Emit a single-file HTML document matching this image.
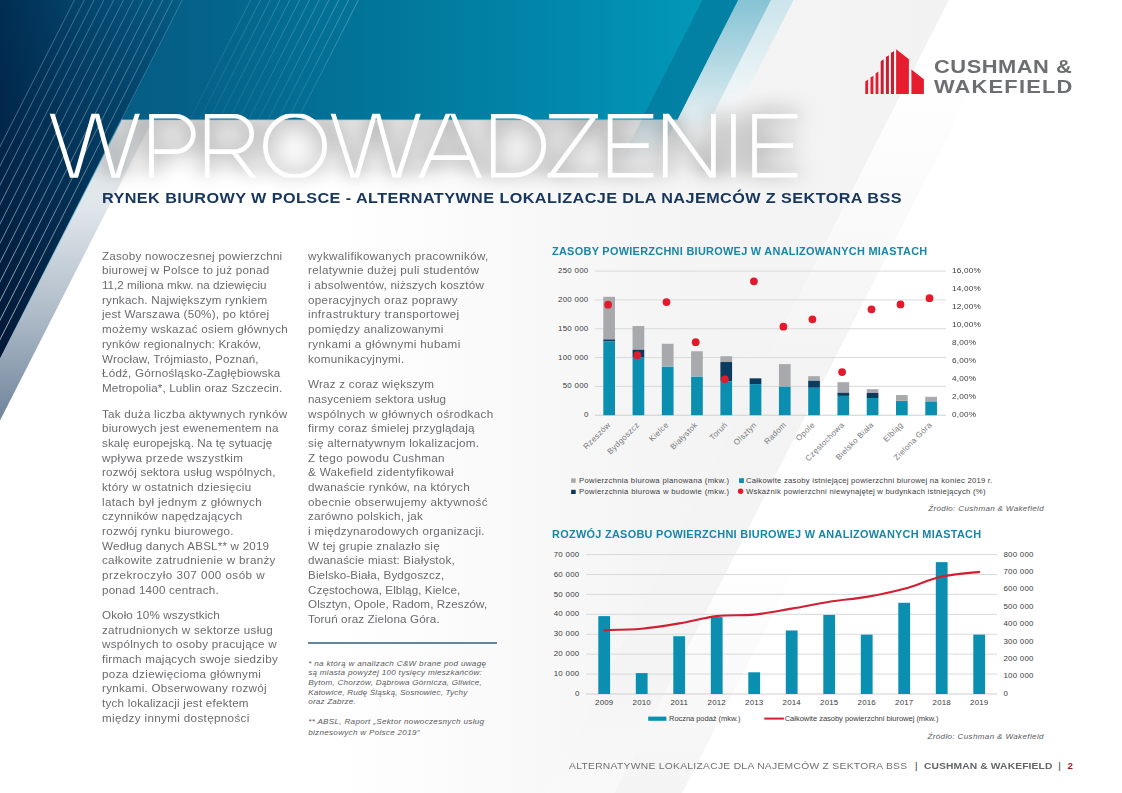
<!DOCTYPE html>
<html><head><meta charset="utf-8"><title>Wprowadzenie</title>
<style>
html,body{margin:0;padding:0;background:#fff;}
body{width:1122px;height:793px;position:relative;overflow:hidden;font-family:"Liberation Sans",sans-serif;}
.t{position:absolute;white-space:nowrap;line-height:1;margin:0;padding:0;transform-origin:0 50%;}
svg{position:absolute;left:0;top:0;}
</style></head><body>
<svg width="1122" height="793" viewBox="0 0 1122 793">
<defs>
<linearGradient id="gTeal" gradientUnits="userSpaceOnUse" x1="0" y1="0" x2="760" y2="0">
 <stop offset="0" stop-color="#04557b"/><stop offset="0.24" stop-color="#056088"/><stop offset="0.5" stop-color="#02769a"/><stop offset="0.75" stop-color="#0189ac"/><stop offset="0.9" stop-color="#0296b7"/><stop offset="1" stop-color="#0296b7"/>
</linearGradient>
<linearGradient id="gNavy" gradientUnits="userSpaceOnUse" x1="0" y1="0" x2="185" y2="0">
 <stop offset="0" stop-color="#022d52"/><stop offset="0.5" stop-color="#04476f"/><stop offset="1" stop-color="#055d85"/>
</linearGradient>
<linearGradient id="gNavyV" gradientUnits="userSpaceOnUse" x1="0" y1="0" x2="0" y2="360">
 <stop offset="0" stop-color="#001030" stop-opacity="0"/><stop offset="0.33" stop-color="#001030" stop-opacity="0.22"/><stop offset="1" stop-color="#000a25" stop-opacity="0.6"/>
</linearGradient>
<linearGradient id="gBand" gradientUnits="userSpaceOnUse" x1="0" y1="120" x2="0" y2="420">
 <stop offset="0" stop-color="#eef1f3"/><stop offset="0.3" stop-color="#dfe5ea"/><stop offset="0.65" stop-color="#aebbc8"/><stop offset="1" stop-color="#6f849b"/>
</linearGradient>
<linearGradient id="gLB1" gradientUnits="userSpaceOnUse" x1="0" y1="0" x2="0" y2="150">
 <stop offset="0" stop-color="#86c3d4"/><stop offset="0.55" stop-color="#c3e0e8"/><stop offset="0.8" stop-color="#e6f1f4" stop-opacity="0.9"/><stop offset="1" stop-color="#ffffff" stop-opacity="0"/>
</linearGradient>
<linearGradient id="gLB0" gradientUnits="userSpaceOnUse" x1="0" y1="120" x2="0" y2="165">
 <stop offset="0" stop-color="#9fcfdc" stop-opacity="0.45"/><stop offset="1" stop-color="#cfe6ec" stop-opacity="0"/></linearGradient>
<linearGradient id="gLB2" gradientUnits="userSpaceOnUse" x1="0" y1="0" x2="0" y2="135">
 <stop offset="0" stop-color="#cbe4eb"/><stop offset="0.6" stop-color="#eaf3f6"/><stop offset="1" stop-color="#ffffff" stop-opacity="0"/>
</linearGradient>
<linearGradient id="gGrayA" gradientUnits="userSpaceOnUse" x1="330" y1="0" x2="949" y2="0">
 <stop offset="0" stop-color="#ffffff"/><stop offset="0.5" stop-color="#f5f5f5"/><stop offset="1" stop-color="#f2f2f2"/>
</linearGradient>
<linearGradient id="gB2" gradientUnits="userSpaceOnUse" x1="0" y1="0" x2="0" y2="793">
 <stop offset="0" stop-color="#ffffff"/><stop offset="0.13" stop-color="#fefefe"/><stop offset="0.33" stop-color="#f8f8f8"/><stop offset="0.48" stop-color="#f3f3f3"/><stop offset="0.85" stop-color="#f4f4f4"/><stop offset="1" stop-color="#f9f9f9"/></linearGradient>
<linearGradient id="gB3" gradientUnits="userSpaceOnUse" x1="0" y1="0" x2="0" y2="793">
 <stop offset="0" stop-color="#ffffff"/><stop offset="0.7" stop-color="#ffffff"/><stop offset="1" stop-color="#f4f4f4"/></linearGradient>
<linearGradient id="gLinesN" gradientUnits="userSpaceOnUse" x1="0" y1="0" x2="0" y2="340">
 <stop offset="0" stop-color="#dbe9f2" stop-opacity="0.30"/><stop offset="0.35" stop-color="#e3eef5" stop-opacity="0.36"/><stop offset="1" stop-color="#ffffff" stop-opacity="0.72"/></linearGradient>
<linearGradient id="gEdge" gradientUnits="userSpaceOnUse" x1="0" y1="120" x2="0" y2="360">
 <stop offset="0" stop-color="#2d9cbd" stop-opacity="0.9"/><stop offset="1" stop-color="#2d9cbd" stop-opacity="0.15"/></linearGradient>
<linearGradient id="gLinesT" gradientUnits="userSpaceOnUse" x1="0" y1="0" x2="0" y2="120">
 <stop offset="0" stop-color="#fff" stop-opacity="0.30"/><stop offset="1" stop-color="#fff" stop-opacity="0.10"/>
</linearGradient>
<clipPath id="cpTop"><rect x="0" y="0" width="1122" height="120"/></clipPath>
<clipPath id="cpBelow"><rect x="0" y="120" width="1122" height="680"/></clipPath>
<linearGradient id="gHdrSh" gradientUnits="userSpaceOnUse" x1="0" y1="120" x2="0" y2="160">
 <stop offset="0" stop-color="#000" stop-opacity="0.07"/><stop offset="1" stop-color="#000" stop-opacity="0"/></linearGradient>
<linearGradient id="gHdrShX" gradientUnits="userSpaceOnUse" x1="600" y1="0" x2="690" y2="0">
 <stop offset="0" stop-color="#fff"/><stop offset="1" stop-color="#000"/></linearGradient>
<mask id="mHdr" maskUnits="userSpaceOnUse" x="0" y="100" width="1122" height="100"><rect x="0" y="100" width="1122" height="100" fill="url(#gHdrShX)"/></mask>
<linearGradient id="gGlowFade" gradientUnits="userSpaceOnUse" x1="0" y1="170" x2="0" y2="196">
 <stop offset="0" stop-color="#fff"/><stop offset="1" stop-color="#000"/></linearGradient>
<mask id="mGlow" maskUnits="userSpaceOnUse" x="0" y="0" width="1122" height="300"><rect x="0" y="0" width="1122" height="300" fill="url(#gGlowFade)"/></mask>
<clipPath id="cpGlow"><polygon points="121.2,120 677,120 738,0 1122,0 1122,260 50,260"/></clipPath>
<clipPath id="cpCaps"><rect x="0" y="113.8" width="1122" height="64"/></clipPath>
<filter id="fGlow" x="-6%" y="-80%" width="112%" height="260%">
 <feGaussianBlur in="SourceAlpha" stdDeviation="11" result="b"/>
 <feComponentTransfer in="b" result="b2"><feFuncA type="linear" slope="2"/></feComponentTransfer>
 <feFlood flood-color="#000" flood-opacity="0.33"/><feComposite in2="b2" operator="in"/>
</filter>
</defs>
<g transform="skewX(-26.931)">
</g><polygon points="330,0 949,0 546.2,793 330,793" fill="url(#gGrayA)"/><g transform="skewX(-26.931)">
<rect x="949" y="0" width="68" height="800" fill="url(#gB2)"/>
<rect x="1017" y="0" width="68" height="800" fill="url(#gB3)"/>
<rect x="702.4" y="120" width="35.6" height="45" fill="url(#gLB0)"/>
<rect x="738" y="0" width="33.5" height="150" fill="url(#gLB1)"/>
<rect x="771" y="0" width="22.5" height="135" fill="url(#gLB2)"/>
</g>
<g clip-path="url(#cpTop)">
<g transform="skewX(-26.931)">
<rect x="-10" y="0" width="748" height="120" fill="url(#gTeal)" />
</g>
<polygon points="0,0 738,0 677.0,120 0,120" fill="url(#gTeal)"/>
<g transform="skewX(-26.931)">
<rect x="702.4" y="0" width="35.6" height="120" fill="#04749a" opacity="0.62"/>
<rect x="250.15" y="0" width="0.9" height="120" fill="url(#gLinesT)" opacity="0.55"/>
<rect x="259.95" y="0" width="0.9" height="120" fill="url(#gLinesT)" opacity="0.59"/>
<rect x="269.75" y="0" width="0.9" height="120" fill="url(#gLinesT)" opacity="0.63"/>
<rect x="279.55" y="0" width="0.9" height="120" fill="url(#gLinesT)" opacity="0.67"/>
<rect x="289.35" y="0" width="0.9" height="120" fill="url(#gLinesT)" opacity="0.71"/>
<rect x="299.15" y="0" width="0.9" height="120" fill="url(#gLinesT)" opacity="0.75"/>
<rect x="308.95" y="0" width="0.9" height="120" fill="url(#gLinesT)" opacity="0.80"/>
<rect x="318.75" y="0" width="0.9" height="120" fill="url(#gLinesT)" opacity="0.84"/>
<rect x="328.55" y="0" width="0.9" height="120" fill="url(#gLinesT)" opacity="0.88"/>
<rect x="338.35" y="0" width="0.9" height="120" fill="url(#gLinesT)" opacity="0.92"/>
<rect x="348.15" y="0" width="0.9" height="120" fill="url(#gLinesT)" opacity="0.96"/>
<rect x="357.95" y="0" width="0.9" height="120" fill="url(#gLinesT)" opacity="1.00"/>
</g></g>
<polygon points="0,0 182.2,0 0,358.7" fill="url(#gNavy)"/>
<polygon points="0,0 182.2,0 0,358.7" fill="url(#gNavyV)"/>
<g transform="skewX(-26.931)">
<rect x="74.03" y="0" width="0.9" height="400" fill="url(#gLinesN)"/>
<rect x="83.83" y="0" width="0.9" height="400" fill="url(#gLinesN)"/>
<rect x="93.63" y="0" width="0.9" height="400" fill="url(#gLinesN)"/>
<rect x="103.43" y="0" width="0.9" height="400" fill="url(#gLinesN)"/>
<rect x="113.23" y="0" width="0.9" height="400" fill="url(#gLinesN)"/>
<rect x="123.03" y="0" width="0.9" height="400" fill="url(#gLinesN)"/>
<rect x="132.83" y="0" width="0.9" height="400" fill="url(#gLinesN)"/>
<rect x="142.63" y="0" width="0.9" height="400" fill="url(#gLinesN)"/>
<rect x="152.43" y="0" width="0.9" height="400" fill="url(#gLinesN)"/>
<rect x="162.23" y="0" width="0.9" height="400" fill="url(#gLinesN)"/>
<rect x="172.03" y="0" width="0.9" height="400" fill="url(#gLinesN)"/>
<rect x="181.8" y="0" width="0.8" height="120" fill="#cfe6ef" opacity="0.28"/>
<g clip-path="url(#cpB2)">
</g>
</g>
<g clip-path="url(#cpBelow)"><g transform="skewX(-26.931)">
<rect x="182.2" y="120" width="31.4" height="320" fill="url(#gBand)"/>
<rect x="181.7" y="120" width="1.1" height="320" fill="url(#gEdge)"/>
</g></g>
<rect x="121" y="119.6" width="556.0" height="0.8" fill="#c9eef5" opacity="0.8"/>
<g clip-path="url(#cpGlow)"><rect x="60" y="120" width="770" height="40" fill="url(#gHdrSh)" mask="url(#mHdr)"/></g>
<g clip-path="url(#cpGlow)"><g mask="url(#mGlow)"><g filter="url(#fGlow)"><g fill="none" stroke="#fff" stroke-width="4.70" stroke-linejoin="miter" stroke-miterlimit="10" clip-path="url(#cpCaps)"><path d="M50.36,107.90 L74.10,182.90 L95.30,108.70 L115.50,182.90 L139.24,107.90 M151.50,113.90 V177.70 M151.50,116.25 H175.62 A17.67,17.67 0 0 1 175.62,151.60 H151.50 M207.20,113.90 V177.70 M207.20,116.25 H234.02 A17.67,17.67 0 0 1 234.02,151.60 H207.20 M233.00,151.00 L254.60,179.70 M331.26,107.90 L355.00,182.90 L376.20,108.70 L396.40,182.90 L420.14,107.90 M418.67,183.70 L450.40,108.50 L481.69,183.70 M430.49,157.70 H470.03 M493.30,113.90 V177.70 M493.30,116.25 H514.20 A29.55,29.55 0 0 1 514.20,175.35 H493.30 M549.10,116.25 H598.00 M547.60,175.35 H598.20 M595.00,115.75 L550.60,175.85 M610.10,113.90 V177.70 M610.10,116.25 H653.30 M610.10,145.65 H648.70 M610.10,175.35 H653.50 M665.30,113.90 V177.70 M713.40,113.90 V177.70 M663.70,110.50 L715.00,181.10 M733.45,113.90 V177.70 M754.50,113.90 V177.70 M754.50,116.25 H797.40 M754.50,145.65 H793.00 M754.50,175.35 H797.60"/><ellipse cx="295" cy="145.9" rx="29.65" ry="30.75"/></g></g></g></g>
<g fill="none" stroke="#fff" stroke-width="4.70" stroke-linejoin="miter" stroke-miterlimit="10" clip-path="url(#cpCaps)"><path d="M50.36,107.90 L74.10,182.90 L95.30,108.70 L115.50,182.90 L139.24,107.90 M151.50,113.90 V177.70 M151.50,116.25 H175.62 A17.67,17.67 0 0 1 175.62,151.60 H151.50 M207.20,113.90 V177.70 M207.20,116.25 H234.02 A17.67,17.67 0 0 1 234.02,151.60 H207.20 M233.00,151.00 L254.60,179.70 M331.26,107.90 L355.00,182.90 L376.20,108.70 L396.40,182.90 L420.14,107.90 M418.67,183.70 L450.40,108.50 L481.69,183.70 M430.49,157.70 H470.03 M493.30,113.90 V177.70 M493.30,116.25 H514.20 A29.55,29.55 0 0 1 514.20,175.35 H493.30 M549.10,116.25 H598.00 M547.60,175.35 H598.20 M595.00,115.75 L550.60,175.85 M610.10,113.90 V177.70 M610.10,116.25 H653.30 M610.10,145.65 H648.70 M610.10,175.35 H653.50 M665.30,113.90 V177.70 M713.40,113.90 V177.70 M663.70,110.50 L715.00,181.10 M733.45,113.90 V177.70 M754.50,113.90 V177.70 M754.50,116.25 H797.40 M754.50,145.65 H793.00 M754.50,175.35 H797.60"/><ellipse cx="295" cy="145.9" rx="29.65" ry="30.75"/></g>
<polygon points="865.3,93.9 865.3,81.4 868.1,79.5 868.1,93.9" fill="#e21b2d"/>
<polygon points="870.5,93.9 870.5,77.6 873.4,75.7 873.4,93.9" fill="#e21b2d"/>
<polygon points="875.6,93.9 875.6,73.4 878.4,71.5 878.4,93.9" fill="#e21b2d"/>
<polygon points="880.7,93.9 880.7,61.3 883.7,59.3 883.7,93.9" fill="#c5202f"/>
<polygon points="885.9,93.9 885.9,57.1 888.9,55.2 888.9,93.9" fill="#c5202f"/>
<polygon points="890.9,93.9 890.9,53.1 894.0,50.9 894.0,93.9" fill="#c5202f"/>
<polygon points="896.1,93.9 896.1,49.2 908.9,59.3 908.9,93.9" fill="#e61d2f"/>
<polygon points="911.4,93.9 911.4,69.6 923.9,79.3 923.9,93.9" fill="#e61d2f"/>
</svg>
<div class="t" style="left:933.80px;top:57.12px;font-size:19.00px;letter-spacing:0.465px;color:#6d6e71;font-weight:bold;transform:scaleX(1.1500);">CUSHMAN &amp;</div>
<div class="t" style="left:934.30px;top:77.42px;font-size:19.00px;letter-spacing:1.047px;color:#6d6e71;font-weight:bold;transform:scaleX(1.1500);">WAKEFIELD</div>
<div class="t" style="left:102.40px;top:189.90px;font-size:15.00px;letter-spacing:0.392px;color:#17365d;font-weight:bold;transform:scaleX(1.0800);">RYNEK BIUROWY W POLSCE - ALTERNATYWNE LOKALIZACJE DLA NAJEMCÓW Z SEKTORA BSS</div>
<div class="t" style="left:102.40px;top:250.74px;font-size:10.70px;letter-spacing:0.211px;color:#6a6b6e;transform:scaleX(1.0900);">Zasoby nowoczesnej powierzchni</div>
<div class="t" style="left:102.40px;top:265.42px;font-size:10.70px;letter-spacing:0.227px;color:#6a6b6e;transform:scaleX(1.0900);">biurowej w Polsce to już ponad</div>
<div class="t" style="left:102.40px;top:280.10px;font-size:10.70px;letter-spacing:-0.012px;color:#6a6b6e;transform:scaleX(1.0900);">11,2 miliona mkw. na dziewięciu</div>
<div class="t" style="left:102.40px;top:294.78px;font-size:10.70px;letter-spacing:0.203px;color:#6a6b6e;transform:scaleX(1.0900);">rynkach. Największym rynkiem</div>
<div class="t" style="left:102.40px;top:309.46px;font-size:10.70px;letter-spacing:0.201px;color:#6a6b6e;transform:scaleX(1.0900);">jest Warszawa (50%), po której</div>
<div class="t" style="left:102.40px;top:324.14px;font-size:10.70px;letter-spacing:0.254px;color:#6a6b6e;transform:scaleX(1.0900);">możemy wskazać osiem głównych</div>
<div class="t" style="left:102.40px;top:338.82px;font-size:10.70px;letter-spacing:0.163px;color:#6a6b6e;transform:scaleX(1.0900);">rynków regionalnych: Kraków,</div>
<div class="t" style="left:102.40px;top:353.50px;font-size:10.70px;letter-spacing:0.115px;color:#6a6b6e;transform:scaleX(1.0900);">Wrocław, Trójmiasto, Poznań,</div>
<div class="t" style="left:102.40px;top:368.18px;font-size:10.70px;letter-spacing:0.192px;color:#6a6b6e;transform:scaleX(1.0900);">Łódź, Górnośląsko-Zagłębiowska</div>
<div class="t" style="left:102.40px;top:382.86px;font-size:10.70px;letter-spacing:0.131px;color:#6a6b6e;transform:scaleX(1.0900);">Metropolia*, Lublin oraz Szczecin.</div>
<div class="t" style="left:102.40px;top:408.64px;font-size:10.70px;letter-spacing:0.227px;color:#6a6b6e;transform:scaleX(1.0900);">Tak duża liczba aktywnych rynków</div>
<div class="t" style="left:102.40px;top:423.32px;font-size:10.70px;letter-spacing:0.221px;color:#6a6b6e;transform:scaleX(1.0900);">biurowych jest ewenementem na</div>
<div class="t" style="left:102.40px;top:438.00px;font-size:10.70px;letter-spacing:0.071px;color:#6a6b6e;transform:scaleX(1.0900);">skalę europejską. Na tę sytuację</div>
<div class="t" style="left:102.40px;top:452.68px;font-size:10.70px;letter-spacing:0.316px;color:#6a6b6e;transform:scaleX(1.0900);">wpływa przede wszystkim</div>
<div class="t" style="left:102.40px;top:467.36px;font-size:10.70px;letter-spacing:0.194px;color:#6a6b6e;transform:scaleX(1.0900);">rozwój sektora usług wspólnych,</div>
<div class="t" style="left:102.40px;top:482.04px;font-size:10.70px;letter-spacing:0.271px;color:#6a6b6e;transform:scaleX(1.0900);">który w ostatnich dziesięciu</div>
<div class="t" style="left:102.40px;top:496.72px;font-size:10.70px;letter-spacing:0.297px;color:#6a6b6e;transform:scaleX(1.0900);">latach był jednym z głównych</div>
<div class="t" style="left:102.40px;top:511.40px;font-size:10.70px;letter-spacing:0.227px;color:#6a6b6e;transform:scaleX(1.0900);">czynników napędzających</div>
<div class="t" style="left:102.40px;top:526.08px;font-size:10.70px;letter-spacing:0.248px;color:#6a6b6e;transform:scaleX(1.0900);">rozwój rynku biurowego.</div>
<div class="t" style="left:102.40px;top:540.76px;font-size:10.70px;letter-spacing:0.168px;color:#6a6b6e;transform:scaleX(1.0900);">Według danych ABSL** w 2019</div>
<div class="t" style="left:102.40px;top:555.44px;font-size:10.70px;letter-spacing:0.273px;color:#6a6b6e;transform:scaleX(1.0900);">całkowite zatrudnienie w branży</div>
<div class="t" style="left:102.40px;top:570.12px;font-size:10.70px;letter-spacing:0.414px;color:#6a6b6e;transform:scaleX(1.0900);">przekroczyło 307 000 osób w</div>
<div class="t" style="left:102.40px;top:584.80px;font-size:10.70px;letter-spacing:0.191px;color:#6a6b6e;transform:scaleX(1.0900);">ponad 1400 centrach.</div>
<div class="t" style="left:102.40px;top:609.84px;font-size:10.70px;letter-spacing:0.091px;color:#6a6b6e;transform:scaleX(1.0900);">Około 10% wszystkich</div>
<div class="t" style="left:102.40px;top:624.52px;font-size:10.70px;letter-spacing:0.262px;color:#6a6b6e;transform:scaleX(1.0900);">zatrudnionych w sektorze usług</div>
<div class="t" style="left:102.40px;top:639.20px;font-size:10.70px;letter-spacing:0.239px;color:#6a6b6e;transform:scaleX(1.0900);">wspólnych to osoby pracujące w</div>
<div class="t" style="left:102.40px;top:653.88px;font-size:10.70px;letter-spacing:0.206px;color:#6a6b6e;transform:scaleX(1.0900);">firmach mających swoje siedziby</div>
<div class="t" style="left:102.40px;top:668.56px;font-size:10.70px;letter-spacing:0.320px;color:#6a6b6e;transform:scaleX(1.0900);">poza dziewięcioma głównymi</div>
<div class="t" style="left:102.40px;top:683.24px;font-size:10.70px;letter-spacing:0.231px;color:#6a6b6e;transform:scaleX(1.0900);">rynkami. Obserwowany rozwój</div>
<div class="t" style="left:102.40px;top:697.92px;font-size:10.70px;letter-spacing:0.198px;color:#6a6b6e;transform:scaleX(1.0900);">tych lokalizacji jest efektem</div>
<div class="t" style="left:102.40px;top:712.60px;font-size:10.70px;letter-spacing:0.311px;color:#6a6b6e;transform:scaleX(1.0900);">między innymi dostępności</div>
<div class="t" style="left:308.20px;top:250.74px;font-size:10.70px;letter-spacing:0.296px;color:#6a6b6e;transform:scaleX(1.0900);">wykwalifikowanych pracowników,</div>
<div class="t" style="left:308.20px;top:265.42px;font-size:10.70px;letter-spacing:0.299px;color:#6a6b6e;transform:scaleX(1.0900);">relatywnie dużej puli studentów</div>
<div class="t" style="left:308.20px;top:280.10px;font-size:10.70px;letter-spacing:0.208px;color:#6a6b6e;transform:scaleX(1.0900);">i absolwentów, niższych kosztów</div>
<div class="t" style="left:308.20px;top:294.78px;font-size:10.70px;letter-spacing:0.299px;color:#6a6b6e;transform:scaleX(1.0900);">operacyjnych oraz poprawy</div>
<div class="t" style="left:308.20px;top:309.46px;font-size:10.70px;letter-spacing:0.362px;color:#6a6b6e;transform:scaleX(1.0900);">infrastruktury transportowej</div>
<div class="t" style="left:308.20px;top:324.14px;font-size:10.70px;letter-spacing:0.260px;color:#6a6b6e;transform:scaleX(1.0900);">pomiędzy analizowanymi</div>
<div class="t" style="left:308.20px;top:338.82px;font-size:10.70px;letter-spacing:0.325px;color:#6a6b6e;transform:scaleX(1.0900);">rynkami a głównymi hubami</div>
<div class="t" style="left:308.20px;top:353.50px;font-size:10.70px;letter-spacing:0.261px;color:#6a6b6e;transform:scaleX(1.0900);">komunikacyjnymi.</div>
<div class="t" style="left:308.20px;top:379.24px;font-size:10.70px;letter-spacing:0.210px;color:#6a6b6e;transform:scaleX(1.0900);">Wraz z coraz większym</div>
<div class="t" style="left:308.20px;top:393.92px;font-size:10.70px;letter-spacing:0.134px;color:#6a6b6e;transform:scaleX(1.0900);">nasyceniem sektora usług</div>
<div class="t" style="left:308.20px;top:408.60px;font-size:10.70px;letter-spacing:0.328px;color:#6a6b6e;transform:scaleX(1.0900);">wspólnych w głównych ośrodkach</div>
<div class="t" style="left:308.20px;top:423.28px;font-size:10.70px;letter-spacing:0.222px;color:#6a6b6e;transform:scaleX(1.0900);">firmy coraz śmielej przyglądają</div>
<div class="t" style="left:308.20px;top:437.96px;font-size:10.70px;letter-spacing:0.240px;color:#6a6b6e;transform:scaleX(1.0900);">się alternatywnym lokalizacjom.</div>
<div class="t" style="left:308.20px;top:452.64px;font-size:10.70px;letter-spacing:0.293px;color:#6a6b6e;transform:scaleX(1.0900);">Z tego powodu Cushman</div>
<div class="t" style="left:308.20px;top:467.32px;font-size:10.70px;letter-spacing:0.296px;color:#6a6b6e;transform:scaleX(1.0900);">&amp; Wakefield zidentyfikował</div>
<div class="t" style="left:308.20px;top:482.00px;font-size:10.70px;letter-spacing:0.233px;color:#6a6b6e;transform:scaleX(1.0900);">dwanaście rynków, na których</div>
<div class="t" style="left:308.20px;top:496.68px;font-size:10.70px;letter-spacing:0.305px;color:#6a6b6e;transform:scaleX(1.0900);">obecnie obserwujemy aktywność</div>
<div class="t" style="left:308.20px;top:511.36px;font-size:10.70px;letter-spacing:0.190px;color:#6a6b6e;transform:scaleX(1.0900);">zarówno polskich, jak</div>
<div class="t" style="left:308.20px;top:526.04px;font-size:10.70px;letter-spacing:0.272px;color:#6a6b6e;transform:scaleX(1.0900);">i międzynarodowych organizacji.</div>
<div class="t" style="left:308.20px;top:540.72px;font-size:10.70px;letter-spacing:0.206px;color:#6a6b6e;transform:scaleX(1.0900);">W tej grupie znalazło się</div>
<div class="t" style="left:308.20px;top:555.40px;font-size:10.70px;letter-spacing:0.148px;color:#6a6b6e;transform:scaleX(1.0900);">dwanaście miast: Białystok,</div>
<div class="t" style="left:308.20px;top:570.08px;font-size:10.70px;letter-spacing:0.106px;color:#6a6b6e;transform:scaleX(1.0900);">Bielsko-Biała, Bydgoszcz,</div>
<div class="t" style="left:308.20px;top:584.76px;font-size:10.70px;letter-spacing:0.068px;color:#6a6b6e;transform:scaleX(1.0900);">Częstochowa, Elbląg, Kielce,</div>
<div class="t" style="left:308.20px;top:599.44px;font-size:10.70px;letter-spacing:0.075px;color:#6a6b6e;transform:scaleX(1.0900);">Olsztyn, Opole, Radom, Rzeszów,</div>
<div class="t" style="left:308.20px;top:614.12px;font-size:10.70px;letter-spacing:0.111px;color:#6a6b6e;transform:scaleX(1.0900);">Toruń oraz Zielona Góra.</div>
<div style="position:absolute;left:308px;top:641.8px;width:189px;height:2.2px;background:#6584a2"></div>
<div class="t" style="left:308.20px;top:659.64px;font-size:8.10px;letter-spacing:0.309px;color:#58595b;font-style:italic;">* na którą w analizach C&amp;W brane pod uwagę</div>
<div class="t" style="left:308.20px;top:669.26px;font-size:8.10px;letter-spacing:0.286px;color:#58595b;font-style:italic;">są miasta powyżej 100 tysięcy mieszkańców:</div>
<div class="t" style="left:308.20px;top:678.88px;font-size:8.10px;letter-spacing:0.253px;color:#58595b;font-style:italic;">Bytom, Chorzów, Dąbrowa Górnicza, Gliwice,</div>
<div class="t" style="left:308.20px;top:688.50px;font-size:8.10px;letter-spacing:0.177px;color:#58595b;font-style:italic;">Katowice, Rudę Śląską, Sosnowiec, Tychy</div>
<div class="t" style="left:308.20px;top:698.12px;font-size:8.10px;letter-spacing:0.194px;color:#58595b;font-style:italic;">oraz Zabrze.</div>
<div class="t" style="left:308.20px;top:717.74px;font-size:8.10px;letter-spacing:0.314px;color:#58595b;font-style:italic;">** ABSL, Raport „Sektor nowoczesnych usług</div>
<div class="t" style="left:308.20px;top:728.64px;font-size:8.10px;letter-spacing:0.292px;color:#58595b;font-style:italic;">biznesowych w Polsce 2019”</div>
<div class="t" style="left:568.90px;top:760.99px;font-size:9.70px;letter-spacing:0.285px;color:#6d6e71;transform:scaleX(1.0600);">ALTERNATYWNE LOKALIZACJE DLA NAJEMCÓW Z SEKTORA BSS</div>
<div class="t" style="left:915.00px;top:760.59px;font-size:9.70px;letter-spacing:0.000px;color:#333335;">|</div>
<div class="t" style="left:923.70px;top:760.99px;font-size:9.70px;letter-spacing:0.119px;color:#636569;font-weight:bold;transform:scaleX(1.0600);">CUSHMAN &amp; WAKEFIELD</div>
<div class="t" style="left:1058.20px;top:760.59px;font-size:9.70px;letter-spacing:0.000px;color:#333335;">|</div>
<div class="t" style="left:1067.50px;top:760.99px;font-size:9.70px;letter-spacing:0.000px;color:#a6192e;font-weight:bold;">2</div>
<svg width="1122" height="793" viewBox="0 0 1122 793">
<rect x="595" y="414.70" width="351" height="1" fill="#cfcfcf"/>
<rect x="595" y="385.88" width="351" height="1" fill="#d9d9d9"/>
<rect x="595" y="357.06" width="351" height="1" fill="#d9d9d9"/>
<rect x="595" y="328.24" width="351" height="1" fill="#d9d9d9"/>
<rect x="595" y="299.42" width="351" height="1" fill="#d9d9d9"/>
<rect x="595" y="270.60" width="351" height="1" fill="#d9d9d9"/>
<rect x="603.30" y="296.77" width="11.70" height="42.68" fill="#a7a9ac"/>
<rect x="603.30" y="339.46" width="11.70" height="2.02" fill="#0c3b60"/>
<rect x="603.30" y="341.47" width="11.70" height="73.73" fill="#0b8fb0"/>
<rect x="632.57" y="326.04" width="11.70" height="23.67" fill="#a7a9ac"/>
<rect x="632.57" y="349.71" width="11.70" height="7.32" fill="#0c3b60"/>
<rect x="632.57" y="357.02" width="11.70" height="58.18" fill="#0b8fb0"/>
<rect x="661.84" y="343.78" width="11.70" height="22.52" fill="#a7a9ac"/>
<rect x="661.84" y="366.64" width="11.70" height="48.56" fill="#0b8fb0"/>
<rect x="691.11" y="351.26" width="11.70" height="25.06" fill="#a7a9ac"/>
<rect x="691.11" y="376.61" width="11.70" height="38.59" fill="#0b8fb0"/>
<rect x="720.38" y="356.22" width="11.70" height="5.82" fill="#a7a9ac"/>
<rect x="720.38" y="362.04" width="11.70" height="19.24" fill="#0c3b60"/>
<rect x="720.38" y="381.27" width="11.70" height="33.93" fill="#0b8fb0"/>
<rect x="749.65" y="378.34" width="11.70" height="5.76" fill="#0c3b60"/>
<rect x="749.65" y="384.10" width="11.70" height="31.10" fill="#0b8fb0"/>
<rect x="778.92" y="364.11" width="11.70" height="22.35" fill="#a7a9ac"/>
<rect x="778.92" y="386.63" width="11.70" height="28.57" fill="#0b8fb0"/>
<rect x="808.19" y="376.20" width="11.70" height="4.61" fill="#a7a9ac"/>
<rect x="808.19" y="380.81" width="11.70" height="6.97" fill="#0c3b60"/>
<rect x="808.19" y="387.78" width="11.70" height="27.42" fill="#0b8fb0"/>
<rect x="837.46" y="382.20" width="11.70" height="10.54" fill="#a7a9ac"/>
<rect x="837.46" y="392.74" width="11.70" height="3.17" fill="#0c3b60"/>
<rect x="837.46" y="395.90" width="11.70" height="19.30" fill="#0b8fb0"/>
<rect x="866.73" y="389.16" width="11.70" height="3.74" fill="#a7a9ac"/>
<rect x="866.73" y="392.91" width="11.70" height="5.13" fill="#0c3b60"/>
<rect x="866.73" y="398.04" width="11.70" height="17.16" fill="#0b8fb0"/>
<rect x="896.00" y="395.04" width="11.70" height="5.82" fill="#a7a9ac"/>
<rect x="896.00" y="401.03" width="11.70" height="14.17" fill="#0b8fb0"/>
<rect x="925.27" y="396.83" width="11.70" height="4.55" fill="#a7a9ac"/>
<rect x="925.27" y="401.49" width="11.70" height="13.71" fill="#0b8fb0"/>
<circle cx="608.1" cy="304.7" r="3.9" fill="#e11b2c"/>
<circle cx="637.3" cy="355.2" r="3.9" fill="#e11b2c"/>
<circle cx="666.5" cy="302.1" r="3.9" fill="#e11b2c"/>
<circle cx="695.7" cy="342.2" r="3.9" fill="#e11b2c"/>
<circle cx="724.9" cy="379.3" r="3.9" fill="#e11b2c"/>
<circle cx="753.9" cy="281.3" r="3.9" fill="#e11b2c"/>
<circle cx="783.4" cy="326.7" r="3.9" fill="#e11b2c"/>
<circle cx="812.4" cy="319.3" r="3.9" fill="#e11b2c"/>
<circle cx="842.1" cy="372.1" r="3.9" fill="#e11b2c"/>
<circle cx="871.5" cy="309.3" r="3.9" fill="#e11b2c"/>
<circle cx="900.5" cy="304.4" r="3.9" fill="#e11b2c"/>
<circle cx="929.5" cy="298.2" r="3.9" fill="#e11b2c"/>
<rect x="571.1" y="478.4" width="4.6" height="4.4" fill="#a7a9ac"/>
<rect x="571.1" y="489.8" width="4.6" height="4.2" fill="#0c3b60"/>
<rect x="739.1" y="478.2" width="4.8" height="4.8" fill="#0b8fb0"/>
<circle cx="740.6" cy="491.3" r="2.7" fill="#e11b2c"/>
<rect x="586" y="693.50" width="411" height="1" fill="#cfcfcf"/>
<rect x="586" y="673.58" width="411" height="1" fill="#d9d9d9"/>
<rect x="586" y="653.66" width="411" height="1" fill="#d9d9d9"/>
<rect x="586" y="633.74" width="411" height="1" fill="#d9d9d9"/>
<rect x="586" y="613.82" width="411" height="1" fill="#d9d9d9"/>
<rect x="586" y="593.90" width="411" height="1" fill="#d9d9d9"/>
<rect x="586" y="573.98" width="411" height="1" fill="#d9d9d9"/>
<rect x="586" y="554.06" width="411" height="1" fill="#d9d9d9"/>
<rect x="598.30" y="616.11" width="11.80" height="77.89" fill="#0b8fb0"/>
<rect x="635.80" y="673.08" width="11.80" height="20.92" fill="#0b8fb0"/>
<rect x="673.30" y="636.23" width="11.80" height="57.77" fill="#0b8fb0"/>
<rect x="710.80" y="617.11" width="11.80" height="76.89" fill="#0b8fb0"/>
<rect x="748.30" y="672.29" width="11.80" height="21.71" fill="#0b8fb0"/>
<rect x="785.80" y="630.46" width="11.80" height="63.54" fill="#0b8fb0"/>
<rect x="823.30" y="614.92" width="11.80" height="79.08" fill="#0b8fb0"/>
<rect x="860.80" y="634.64" width="11.80" height="59.36" fill="#0b8fb0"/>
<rect x="898.30" y="602.77" width="11.80" height="91.23" fill="#0b8fb0"/>
<rect x="935.80" y="562.13" width="11.80" height="131.87" fill="#0b8fb0"/>
<rect x="973.30" y="634.64" width="11.80" height="59.36" fill="#0b8fb0"/>
<path d="M604.2,630.2 C610.4,630.0 629.2,629.8 641.7,628.7 C654.2,627.6 666.7,625.5 679.2,623.4 C691.7,621.3 704.2,617.6 716.7,616.1 C729.2,614.6 741.7,615.9 754.2,614.6 C766.7,613.4 779.2,610.7 791.7,608.6 C804.2,606.5 816.7,603.8 829.2,601.8 C841.7,599.8 854.2,599.1 866.7,596.9 C879.2,594.7 891.7,592.2 904.2,588.8 C916.7,585.4 929.2,579.4 941.7,576.6 C954.2,573.8 972.9,572.7 979.2,571.9" fill="none" stroke="#d11f33" stroke-width="2.1" stroke-linecap="round"/>
<rect x="648.2" y="716.6" width="18.2" height="4.2" fill="#0b8fb0"/>
<rect x="764.3" y="717.6" width="19.6" height="2.0" fill="#d11f33"/>
</svg>
<div class="t" style="left:552.00px;top:246.97px;font-size:10.20px;letter-spacing:0.276px;color:#1687a7;font-weight:bold;transform:scaleX(1.0700);">ZASOBY POWIERZCHNI BIUROWEJ W ANALIZOWANYCH MIASTACH</div>
<div class="t" style="left:552.10px;top:529.97px;font-size:10.20px;letter-spacing:0.279px;color:#1687a7;font-weight:bold;transform:scaleX(1.0700);">ROZWÓJ ZASOBU POWIERZCHNI BIUROWEJ W ANALIZOWANYCH MIASTACH</div>
<div class="t" style="left:583.91px;top:411.31px;font-size:7.90px;letter-spacing:0.300px;color:#3a3a3c;">0</div>
<div class="t" style="left:562.64px;top:382.49px;font-size:7.90px;letter-spacing:0.300px;color:#3a3a3c;">50 000</div>
<div class="t" style="left:557.94px;top:353.67px;font-size:7.90px;letter-spacing:0.300px;color:#3a3a3c;">100 000</div>
<div class="t" style="left:557.94px;top:324.85px;font-size:7.90px;letter-spacing:0.300px;color:#3a3a3c;">150 000</div>
<div class="t" style="left:557.94px;top:296.03px;font-size:7.90px;letter-spacing:0.300px;color:#3a3a3c;">200 000</div>
<div class="t" style="left:557.94px;top:267.21px;font-size:7.90px;letter-spacing:0.300px;color:#3a3a3c;">250 000</div>
<div class="t" style="left:952.00px;top:411.01px;font-size:7.90px;letter-spacing:0.200px;color:#3a3a3c;transform:scaleX(1.0400);">0,00%</div>
<div class="t" style="left:952.00px;top:393.06px;font-size:7.90px;letter-spacing:0.200px;color:#3a3a3c;transform:scaleX(1.0400);">2,00%</div>
<div class="t" style="left:952.00px;top:375.11px;font-size:7.90px;letter-spacing:0.200px;color:#3a3a3c;transform:scaleX(1.0400);">4,00%</div>
<div class="t" style="left:952.00px;top:357.16px;font-size:7.90px;letter-spacing:0.200px;color:#3a3a3c;transform:scaleX(1.0400);">6,00%</div>
<div class="t" style="left:952.00px;top:339.21px;font-size:7.90px;letter-spacing:0.200px;color:#3a3a3c;transform:scaleX(1.0400);">8,00%</div>
<div class="t" style="left:952.00px;top:321.26px;font-size:7.90px;letter-spacing:0.200px;color:#3a3a3c;transform:scaleX(1.0400);">10,00%</div>
<div class="t" style="left:952.00px;top:303.31px;font-size:7.90px;letter-spacing:0.200px;color:#3a3a3c;transform:scaleX(1.0400);">12,00%</div>
<div class="t" style="left:952.00px;top:285.36px;font-size:7.90px;letter-spacing:0.200px;color:#3a3a3c;transform:scaleX(1.0400);">14,00%</div>
<div class="t" style="left:952.00px;top:267.41px;font-size:7.90px;letter-spacing:0.200px;color:#3a3a3c;transform:scaleX(1.0400);">16,00%</div>
<div class="t" style="right:512.65px;top:419.60px;font-size:8px;letter-spacing:0.3px;color:#77787b;transform-origin:100% 50%;transform:rotate(-45deg);">Rzeszów</div>
<div class="t" style="right:483.38px;top:419.60px;font-size:8px;letter-spacing:0.3px;color:#77787b;transform-origin:100% 50%;transform:rotate(-45deg);">Bydgoszcz</div>
<div class="t" style="right:454.11px;top:419.60px;font-size:8px;letter-spacing:0.3px;color:#77787b;transform-origin:100% 50%;transform:rotate(-45deg);">Kielce</div>
<div class="t" style="right:424.84px;top:419.60px;font-size:8px;letter-spacing:0.3px;color:#77787b;transform-origin:100% 50%;transform:rotate(-45deg);">Białystok</div>
<div class="t" style="right:395.57px;top:419.60px;font-size:8px;letter-spacing:0.3px;color:#77787b;transform-origin:100% 50%;transform:rotate(-45deg);">Toruń</div>
<div class="t" style="right:366.30px;top:419.60px;font-size:8px;letter-spacing:0.3px;color:#77787b;transform-origin:100% 50%;transform:rotate(-45deg);">Olsztyn</div>
<div class="t" style="right:337.03px;top:419.60px;font-size:8px;letter-spacing:0.3px;color:#77787b;transform-origin:100% 50%;transform:rotate(-45deg);">Radom</div>
<div class="t" style="right:307.76px;top:419.60px;font-size:8px;letter-spacing:0.3px;color:#77787b;transform-origin:100% 50%;transform:rotate(-45deg);">Opole</div>
<div class="t" style="right:278.49px;top:419.60px;font-size:8px;letter-spacing:0.3px;color:#77787b;transform-origin:100% 50%;transform:rotate(-45deg);">Częstochowa</div>
<div class="t" style="right:249.22px;top:419.60px;font-size:8px;letter-spacing:0.3px;color:#77787b;transform-origin:100% 50%;transform:rotate(-45deg);">Bielsko Biała</div>
<div class="t" style="right:219.95px;top:419.60px;font-size:8px;letter-spacing:0.3px;color:#77787b;transform-origin:100% 50%;transform:rotate(-45deg);">Elbląg</div>
<div class="t" style="right:190.68px;top:419.60px;font-size:8px;letter-spacing:0.3px;color:#77787b;transform-origin:100% 50%;transform:rotate(-45deg);">Zielona Góra</div>
<div class="t" style="left:579.00px;top:476.78px;font-size:7.70px;letter-spacing:0.308px;color:#3b3b3d;">Powierzchnia biurowa planowana (mkw.)</div>
<div class="t" style="left:579.00px;top:487.78px;font-size:7.70px;letter-spacing:0.332px;color:#3b3b3d;">Powierzchnia biurowa w budowie (mkw.)</div>
<div class="t" style="left:746.00px;top:476.78px;font-size:7.70px;letter-spacing:0.250px;color:#3b3b3d;">Całkowite zasoby istniejącej powierzchni biurowej na koniec 2019 r.</div>
<div class="t" style="left:746.00px;top:487.78px;font-size:7.70px;letter-spacing:0.269px;color:#3b3b3d;">Wskaźnik powierzchni niewynajętej w budynkach istniejących (%)</div>
<div class="t" style="left:928.30px;top:505.43px;font-size:8.00px;letter-spacing:0.357px;color:#58595b;font-style:italic;">Źródło: Cushman &amp; Wakefield</div>
<div class="t" style="left:574.91px;top:690.11px;font-size:7.90px;letter-spacing:0.300px;color:#3a3a3c;">0</div>
<div class="t" style="left:553.64px;top:670.19px;font-size:7.90px;letter-spacing:0.300px;color:#3a3a3c;">10 000</div>
<div class="t" style="left:553.64px;top:650.27px;font-size:7.90px;letter-spacing:0.300px;color:#3a3a3c;">20 000</div>
<div class="t" style="left:553.64px;top:630.35px;font-size:7.90px;letter-spacing:0.300px;color:#3a3a3c;">30 000</div>
<div class="t" style="left:553.64px;top:610.43px;font-size:7.90px;letter-spacing:0.300px;color:#3a3a3c;">40 000</div>
<div class="t" style="left:553.64px;top:590.51px;font-size:7.90px;letter-spacing:0.300px;color:#3a3a3c;">50 000</div>
<div class="t" style="left:553.64px;top:570.59px;font-size:7.90px;letter-spacing:0.300px;color:#3a3a3c;">60 000</div>
<div class="t" style="left:553.64px;top:550.67px;font-size:7.90px;letter-spacing:0.300px;color:#3a3a3c;">70 000</div>
<div class="t" style="left:1003.40px;top:689.71px;font-size:7.90px;letter-spacing:0.250px;color:#3a3a3c;">0</div>
<div class="t" style="left:1003.40px;top:672.31px;font-size:7.90px;letter-spacing:0.250px;color:#3a3a3c;">100 000</div>
<div class="t" style="left:1003.40px;top:654.91px;font-size:7.90px;letter-spacing:0.250px;color:#3a3a3c;">200 000</div>
<div class="t" style="left:1003.40px;top:637.51px;font-size:7.90px;letter-spacing:0.250px;color:#3a3a3c;">300 000</div>
<div class="t" style="left:1003.40px;top:620.11px;font-size:7.90px;letter-spacing:0.250px;color:#3a3a3c;">400 000</div>
<div class="t" style="left:1003.40px;top:602.71px;font-size:7.90px;letter-spacing:0.250px;color:#3a3a3c;">500 000</div>
<div class="t" style="left:1003.40px;top:585.31px;font-size:7.90px;letter-spacing:0.250px;color:#3a3a3c;">600 000</div>
<div class="t" style="left:1003.40px;top:567.91px;font-size:7.90px;letter-spacing:0.250px;color:#3a3a3c;">700 000</div>
<div class="t" style="left:1003.40px;top:550.51px;font-size:7.90px;letter-spacing:0.250px;color:#3a3a3c;">800 000</div>
<div class="t" style="left:595.11px;top:698.61px;font-size:7.90px;letter-spacing:0.200px;color:#3a3a3c;">2009</div>
<div class="t" style="left:632.61px;top:698.61px;font-size:7.90px;letter-spacing:0.200px;color:#3a3a3c;">2010</div>
<div class="t" style="left:670.41px;top:698.61px;font-size:7.90px;letter-spacing:0.200px;color:#3a3a3c;">2011</div>
<div class="t" style="left:707.61px;top:698.61px;font-size:7.90px;letter-spacing:0.200px;color:#3a3a3c;">2012</div>
<div class="t" style="left:745.11px;top:698.61px;font-size:7.90px;letter-spacing:0.200px;color:#3a3a3c;">2013</div>
<div class="t" style="left:782.61px;top:698.61px;font-size:7.90px;letter-spacing:0.200px;color:#3a3a3c;">2014</div>
<div class="t" style="left:820.11px;top:698.61px;font-size:7.90px;letter-spacing:0.200px;color:#3a3a3c;">2015</div>
<div class="t" style="left:857.61px;top:698.61px;font-size:7.90px;letter-spacing:0.200px;color:#3a3a3c;">2016</div>
<div class="t" style="left:895.11px;top:698.61px;font-size:7.90px;letter-spacing:0.200px;color:#3a3a3c;">2017</div>
<div class="t" style="left:932.61px;top:698.61px;font-size:7.90px;letter-spacing:0.200px;color:#3a3a3c;">2018</div>
<div class="t" style="left:970.11px;top:698.61px;font-size:7.90px;letter-spacing:0.200px;color:#3a3a3c;">2019</div>
<div class="t" style="left:669.00px;top:715.05px;font-size:7.50px;letter-spacing:-0.040px;color:#3b3b3d;">Roczna podaż (mkw.)</div>
<div class="t" style="left:784.70px;top:715.05px;font-size:7.50px;letter-spacing:-0.012px;color:#3b3b3d;">Całkowite zasoby powierzchni biurowej (mkw.)</div>
<div class="t" style="left:927.40px;top:732.83px;font-size:8.00px;letter-spacing:0.384px;color:#58595b;font-style:italic;">Źródło: Cushman &amp; Wakefield</div>
</body></html>
